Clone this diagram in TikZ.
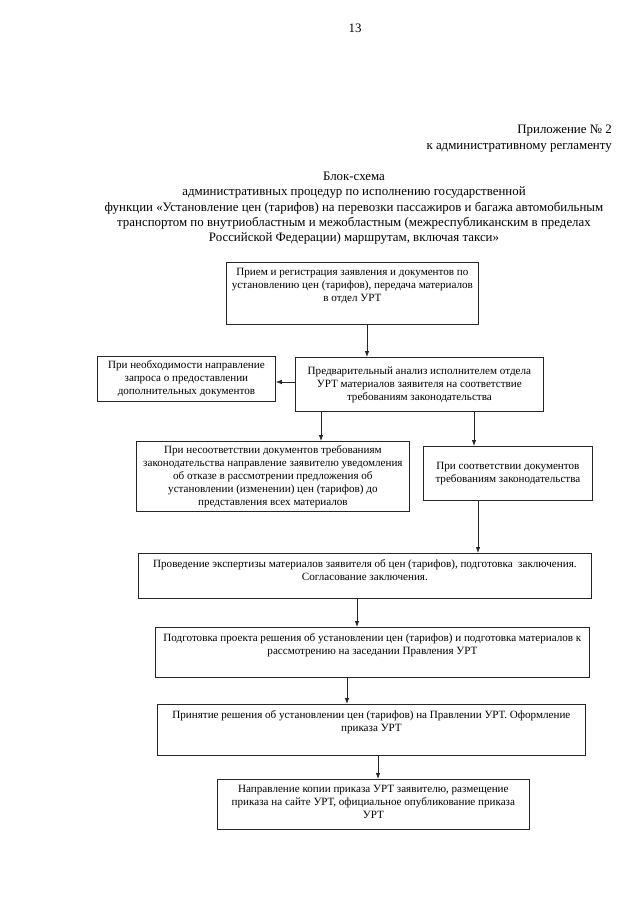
\documentclass[tikz,border=0pt]{standalone}
\usepackage{fontspec}
\setmainfont{Liberation Serif}
\usetikzlibrary{arrows.meta}
\tikzset{
 blok/.style={draw=black!85,line width=0.8pt,inner sep=0pt,anchor=north west,font=\fontsize{11.1}{13}\selectfont},
 strel/.style={draw=black!85,line width=0.8pt,-{Latex[length=6pt,width=4.5pt]}},
 zag/.style={inner sep=0pt,font=\fontsize{12.9}{15.2}\selectfont}
}
\newcommand{\verh}[3]{\parbox[t][#2pt][t]{#1pt}{\centering\vspace*{6pt}#3\par}}
\newcommand{\sred}[3]{\parbox[t][#2pt][c]{#1pt}{\centering #3\par}}
\begin{document}
\begin{tikzpicture}[x=1pt,y=-1pt]
 \useasboundingbox (0,0) rectangle (640,905);
 % header
 \node[zag] (nomer) at (355,28) {13};
 \node[zag,anchor=east] (pril) at (612,131) {Приложение № 2};
 \node[zag,anchor=east] (regl) at (612,148) {к административному регламенту};
 \node[zag,align=center,anchor=north] (zagolovok) at (354,172) {Блок-схема\\
  административных процедур по исполнению государственной\\
  функции «Установление цен (тарифов) на перевозки пассажиров и багажа автомобильным\\
  транспортом по внутриобластным и межобластным (межреспубликанским в пределах\\
  Российской Федерации) маршрутам, включая такси»};
 % boxes
 \node[blok] (priem) at (226,262) {\verh{252}{62}{Прием и регистрация заявления и документов по\\ установлению цен (тарифов), передача материалов\\ в отдел УРТ}};
 \node[blok] (analiz) at (295,357) {\sred{248}{54}{Предварительный анализ исполнителем отдела\\ УРТ материалов заявителя на соответствие\\ требованиям законодательства}};
 \node[blok] (zapros) at (97,356) {\sred{178}{45}{При необходимости направление\\ запроса о предоставлении\\ дополнительных документов}};
 \node[blok] (otkaz) at (136,441) {\sred{273}{70}{При несоответствии документов требованиям\\ законодательства направление заявителю уведомления\\ об отказе в рассмотрении предложения об\\ установлении (изменении) цен (тарифов) до\\ представления всех материалов}};
 \node[blok] (sootv) at (423,446) {\sred{169}{54}{При соответствии документов\\ требованиям законодательства}};
 \node[blok] (ekspert) at (138,553) {\verh{453}{45}{Проведение экспертизы материалов заявителя об цен (тарифов), подготовка~~заключения.\\ Согласование заключения.}};
 \node[blok] (proekt) at (155,627) {\verh{434}{50}{Подготовка проекта решения об установлении цен (тарифов) и подготовка материалов к\\ рассмотрению на заседании Правления УРТ}};
 \node[blok] (reshenie) at (157,704) {\verh{428}{51}{Принятие решения об установлении цен (тарифов) на Правлении УРТ. Оформление\\ приказа УРТ}};
 \node[blok] (prikaz) at (217,779) {\verh{312}{50}{Направление копии приказа УРТ заявителю, размещение\\ приказа на сайте УРТ, официальное опубликование приказа\\ УРТ}};
 % arrows
 \coordinate (s1) at (367,0);
 \coordinate (s2) at (0,382);
 \coordinate (s3) at (321,0);
 \coordinate (s4) at (474,0);
 \coordinate (s5) at (478,0);
 \coordinate (s6) at (357,0);
 \coordinate (s7) at (347,0);
 \coordinate (s8) at (378,0);
 \draw[strel] (priem.south -| s1) -- (analiz.north -| s1);
 \draw[strel] (analiz.west |- s2) -- (zapros.east |- s2);
 \draw[strel] (analiz.south -| s3) -- (otkaz.north -| s3);
 \draw[strel] (analiz.south -| s4) -- (sootv.north -| s4);
 \draw[strel] (sootv.south -| s5) -- (ekspert.north -| s5);
 \draw[strel] (ekspert.south -| s6) -- (proekt.north -| s6);
 \draw[strel] (proekt.south -| s7) -- (reshenie.north -| s7);
 \draw[strel] (reshenie.south -| s8) -- (prikaz.north -| s8);
\end{tikzpicture}
\end{document}
